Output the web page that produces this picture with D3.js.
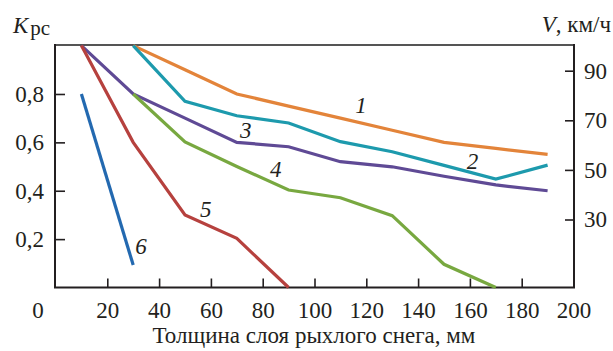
<!DOCTYPE html>
<html><head><meta charset="utf-8">
<script src="https://cdn.jsdelivr.net/npm/d3@7"></script>
<style>
body{margin:0;background:#fff;}
svg{display:block;}
</style></head>
<body>
<svg id="c" width="613" height="351"></svg>
<script>
const xValues = [10,30,50,70,90,110,130,150,170,190];
const line1 = [null,1.0,0.90,0.80,0.75,0.70,0.65,0.60,0.575,0.55];
const line2 = [null,1.0,0.77,0.71,0.68,0.603,0.561,0.505,0.448,0.506];
const line3 = [1.0,0.80,0.70,0.60,0.582,0.52,0.499,0.46,0.424,0.40];
const line4 = [null,0.80,0.602,0.50,0.403,0.371,0.297,0.096,0.0,null];
const line5 = [1.0,0.60,0.30,0.203,0.0,null,null,null,null,null];
const line6 = [0.80,0.093,null,null,null,null,null,null,null,null];
const seriesNames = ["1","2","3","4","5","6"];
const seriesColors = ["#e3843a","#1d9aad","#5f4a95","#78a840","#b6413e","#2369b0"];
const xTicks = [20,40,60,80,100,120,140,160,180,200];
const yTicks = [0.2,0.4,0.6,0.8];
const vTicks = [30,50,70,90];
const xTitle = "Толщина слоя рыхлого снега, мм";

const FF = "'Liberation Serif', serif";
const INK = "#231f20";
const svg = d3.select("#c");
const L=55, R=574, T=45, B=287.5;
const x = d3.scaleLinear().domain([0,200]).range([55.5,573.5]);
const y = d3.scaleLinear().domain([0,1]).range([B,45.6]);
const yv = d3.scaleLinear().domain([30,90]).range([219.5,70.7]);
const ser = sel => sel.style("font-family",FF,"important");

svg.append("line").attr("x1",L).attr("x2",R).attr("y1",T).attr("y2",T).attr("stroke","#555").attr("stroke-width",2);

const fs = 23;
const gx = svg.append("g").attr("transform",`translate(0,${B})`)
  .call(d3.axisBottom(x).tickValues(xTicks).tickSizeInner(-9).tickSizeOuter(0).tickPadding(14).tickFormat(d3.format("d")));
const gy = svg.append("g").attr("transform",`translate(${L},0)`)
  .call(d3.axisLeft(y).tickValues(yTicks).tickSizeInner(-10).tickSizeOuter(0).tickPadding(11).tickFormat(d=>d.toFixed(1).replace(".",",")));
const gr = svg.append("g").attr("transform",`translate(${R},0)`)
  .call(d3.axisRight(yv).tickValues(vTicks).tickSizeInner(-9).tickSizeOuter(0).tickPadding(10).tickFormat(d3.format("d")));
[gx,gy,gr].forEach(g=>{
  g.attr("font-family",null).attr("font-size",fs);
  g.select(".domain").remove();
  g.selectAll(".tick line").attr("stroke",INK).attr("stroke-width",1.6);
  g.selectAll(".tick text").attr("font-size",fs).attr("fill",INK).call(ser);
});
gx.append("text").attr("x",38).attr("y",14).attr("dy","0.71em").attr("text-anchor","middle")
  .attr("font-size",fs).attr("fill",INK).call(ser).text("0");
svg.append("path").attr("d",`M${L},${T-1}V${B}H${R}V${T-1}`).attr("fill","none").attr("stroke",INK).attr("stroke-width",2);

const all=[line1,line2,line3,line4,line5,line6];
const lg = d3.line().x(d=>x(d.x)).y(d=>y(d.v));
all.forEach((s,i)=>{
  const pts = xValues.map((xv,j)=>({x:xv,v:s[j]})).filter(d=>d.v!==null);
  svg.append("path").datum(pts).attr("d",lg).attr("fill","none")
    .attr("stroke",seriesColors[i]).attr("stroke-width",3.2).attr("stroke-linejoin","miter");
});

const labelPos = [[118,0.755],[161,0.525],[73.5,0.65],[85,0.49],[58,0.325],[33,0.17]];
labelPos.forEach((p,i)=>{
  svg.append("text").attr("x",x(p[0])).attr("y",y(p[1])).attr("text-anchor","middle").attr("dy","0.35em")
    .attr("font-style","italic").attr("font-size",fs).attr("fill",INK).call(ser).text(seriesNames[i]);
});

const kt = svg.append("text").attr("x",13).attr("y",33).attr("font-size",fs).attr("fill",INK).call(ser);
kt.append("tspan").attr("font-style","italic").text("K");
kt.append("tspan").attr("dx",2).attr("dy",2).attr("font-size",21).text("рс");
const vt = svg.append("text").attr("x",611).attr("y",32).attr("text-anchor","end").attr("font-size",fs).attr("fill",INK).call(ser);
vt.append("tspan").attr("font-style","italic").text("V");
vt.append("tspan").text(", км/ч");
svg.append("text").attr("x",314).attr("y",343).attr("text-anchor","middle")
  .attr("font-size",fs).attr("fill",INK).call(ser).text(xTitle);
</script>
</body></html>
